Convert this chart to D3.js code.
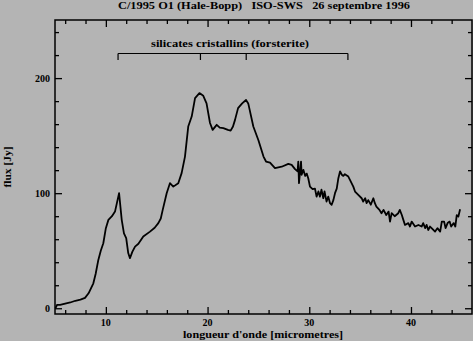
<!DOCTYPE html>
<html>
<head>
<meta charset="utf-8">
<script src="https://cdn.jsdelivr.net/npm/d3@7"></script>
<style>
  html, body { margin: 0; padding: 0; background: #b4b4b4; }
  svg { display: block; }
  text { font-family: "Liberation Serif", "DejaVu Serif", serif; font-weight: bold; fill: #000; }
</style>
</head>
<body>
<div id="chart"></div>
<script>
// wavelength (micrometres) / flux (Jy)
const wavelength = [
  5.05, 5.2, 5.5, 6.0, 6.5, 7.0, 7.5, 7.95, 8.3, 8.77, 9.0, 9.26, 9.5, 9.75, 10.0, 10.25, 10.6, 10.9,
  11.1, 11.3, 11.56, 11.78, 12.0, 12.2, 12.37, 12.6, 12.87, 13.2, 13.68, 14.34, 14.8, 15.16, 15.4,
  15.59, 15.98, 16.3, 16.63, 17.12, 17.45, 17.78, 18.1, 18.44, 18.77, 19.2, 19.58, 19.9, 20.24,
  20.5, 20.9, 21.2, 21.55, 22.0, 22.27, 22.5, 22.7, 23.0, 23.4, 23.78, 24.0, 24.5, 25.0, 25.5,
  25.75, 26.14, 26.63, 27.29, 27.94, 28.27, 28.6, 28.85, 28.92, 28.99, 29.19, 29.25, 29.42, 29.6,
  29.75, 29.9, 30.07, 30.33, 30.56, 30.72, 30.9, 31.05, 31.2, 31.38, 31.5, 31.7, 31.87, 32.04,
  32.2, 32.37, 32.53, 32.7, 32.86, 33.03, 33.2, 33.35, 33.5, 33.84, 34.0, 34.33, 34.5, 34.82,
  35.15, 35.3, 35.5, 35.64, 35.8, 36.05, 36.3, 36.45, 36.6, 36.9, 37.1, 37.3, 37.57, 37.8, 37.94,
  38.1, 38.4, 38.75, 38.9, 39.1, 39.25, 39.41, 39.74, 39.9, 40.07, 40.4, 40.73, 41.05, 41.2, 41.4,
  41.54, 41.7, 41.87, 42.03, 42.37, 42.6, 42.87, 43.03, 43.26, 43.4, 43.6, 43.8, 43.95, 44.2,
  44.36, 44.5, 44.66, 44.83
];
const flux = [
  0, 3, 3, 4, 5, 6.5, 7.5, 9, 13, 21.7, 30, 42, 50, 56.5, 69.6, 76.8, 80, 84,
  92, 100, 76.8, 65, 61, 48, 43.5, 49, 53.6, 56, 62.3, 66.6, 70, 74, 78,
  85.5, 100, 108.7, 105.7, 108.7, 117.4, 131.8, 157.9, 166.6, 182.6, 187, 184.6, 178, 161,
  155, 159.4, 157, 156.5, 155, 154.4, 158, 163.7, 173.9, 178, 181, 178, 157.9, 146, 131.8,
  127.5, 126.6, 121.7, 123, 125.5, 124.6, 120.9, 119, 127.5, 108.7, 127.5, 116, 120.3, 115,
  117, 113, 105.7, 103.5, 104, 97, 101.5, 97, 103, 95.6, 101.5, 92.7, 97, 91.3,
  89.9, 94, 100, 104, 113, 119, 116, 115, 116.5, 114.4, 111.6, 105.7, 101.4, 98.5,
  95.6, 92.7, 95.6, 91.3, 94, 90, 95.6, 91.3, 88.4, 85.5, 82.6, 85.5, 81, 84, 75.3,
  82.6, 80, 82.6, 85.5, 81, 76.8, 72.4, 74, 71, 75.3, 71, 72.4, 71, 74, 69.6,
  72.4, 68, 71, 69.6, 66.6, 69.6, 66.6, 75.3, 75.3, 69.6, 74, 75.3, 71, 74,
  71, 81, 79.7, 86
];

const xTicks = [10, 20, 30, 40];
const yTicks = [0, 100, 200];
const bandTicks = [11.2, 19.3, 23.8, 33.8];

const titleText = "C/1995 O1 (Hale-Bopp)   ISO-SWS   26 septembre 1996";
const bandLabel = "silicates cristallins (forsterite)";
const xLabel = "longueur d'onde [micrometres]";
const yLabel = "flux [Jy]";

const width = 473, height = 341;
const margin = { top: 20, right: 1, bottom: 27, left: 55 };

const svg = d3.select("#chart").append("svg")
  .attr("width", width).attr("height", height);

const x = d3.scaleLinear().domain([5, 46]).range([margin.left, width - margin.right]);
const y = d3.scaleLinear().domain([-5, 250.5]).range([height - margin.bottom, margin.top]);

const data = wavelength.map((w, i) => ({ w, f: flux[i] }));

// minor ticks every 2 um / 20 Jy, major at the labelled values
const xMinor = d3.range(6, 46, 2).filter(v => v % 10 !== 0);
const yMinor = d3.range(20, 250, 20).filter(v => v % 100 !== 0);

function tickAxis(axis, scale, values, size) {
  return axis(scale).tickValues(values).tickSize(size).tickFormat("");
}

const plotH = height - margin.top - margin.bottom;
const plotW = width - margin.left - margin.right;

// ticks point inward on all four sides
const axes = [
  [d3.axisBottom, x, height - margin.bottom, "x"],
  [d3.axisTop, x, margin.top, "x"],
  [d3.axisLeft, y, margin.left, "y"],
  [d3.axisRight, y, width - margin.right, "y"]
];

axes.forEach(([axis, scale, pos, dir]) => {
  const tr = dir === "x" ? `translate(0,${pos})` : `translate(${pos},0)`;
  const minor = dir === "x" ? xMinor : yMinor;
  const major = dir === "x" ? xTicks : yTicks;
  [[minor, 4], [major, 7]].forEach(([vals, len]) => {
    const g = svg.append("g").attr("transform", tr)
      .call(tickAxis(axis, scale, vals, -len));
    g.select(".domain").remove();
    g.selectAll("line").attr("stroke", "#000").attr("stroke-width", 1.3);
  });
});

// frame
svg.append("rect")
  .attr("x", margin.left).attr("y", margin.top)
  .attr("width", plotW).attr("height", plotH)
  .attr("fill", "none").attr("stroke", "#000").attr("stroke-width", 1.5);

// tick labels
svg.append("g").selectAll("text").data(xTicks).join("text")
  .attr("x", d => x(d)).attr("y", height - margin.bottom + 12)
  .attr("text-anchor", "middle").attr("font-size", 10)
  .text(d => d);

svg.append("g").selectAll("text").data(yTicks).join("text")
  .attr("x", margin.left - 5).attr("y", d => y(d) + 3.5)
  .attr("text-anchor", "end").attr("font-size", 10)
  .text(d => d);

// spectrum
const line = d3.line().x(d => x(d.w)).y(d => y(d.f));
svg.append("path").datum(data)
  .attr("d", line)
  .attr("fill", "none").attr("stroke", "#000")
  .attr("stroke-width", 1.8).attr("stroke-linejoin", "round");

// forsterite band bracket
const bracketY = 53.5;
svg.append("line")
  .attr("x1", x(d3.min(bandTicks))).attr("x2", x(d3.max(bandTicks)))
  .attr("y1", bracketY).attr("y2", bracketY)
  .attr("stroke", "#000").attr("stroke-width", 1.2);
svg.append("g").selectAll("line").data(bandTicks).join("line")
  .attr("x1", d => x(d)).attr("x2", d => x(d))
  .attr("y1", bracketY).attr("y2", bracketY + 6.5)
  .attr("stroke", "#000").attr("stroke-width", 1.2);
svg.append("text")
  .attr("x", 230).attr("y", 47)
  .attr("text-anchor", "middle").attr("font-size", 10)
  .attr("textLength", 158).attr("lengthAdjust", "spacingAndGlyphs")
  .text(bandLabel);

// titles
svg.append("text")
  .attr("x", 264).attr("y", 9)
  .attr("text-anchor", "middle").attr("font-size", 10)
  .attr("textLength", 292).attr("lengthAdjust", "spacingAndGlyphs")
  .attr("xml:space", "preserve").style("white-space", "pre")
  .text(titleText);

svg.append("text")
  .attr("x", 263).attr("y", 338)
  .attr("text-anchor", "middle").attr("font-size", 10)
  .attr("textLength", 160).attr("lengthAdjust", "spacingAndGlyphs")
  .text(xLabel);

svg.append("text")
  .attr("transform", `translate(11,167) rotate(-90)`)
  .attr("text-anchor", "middle").attr("font-size", 10)
  .attr("textLength", 41).attr("lengthAdjust", "spacingAndGlyphs")
  .text(yLabel);
</script>
</body>
</html>
